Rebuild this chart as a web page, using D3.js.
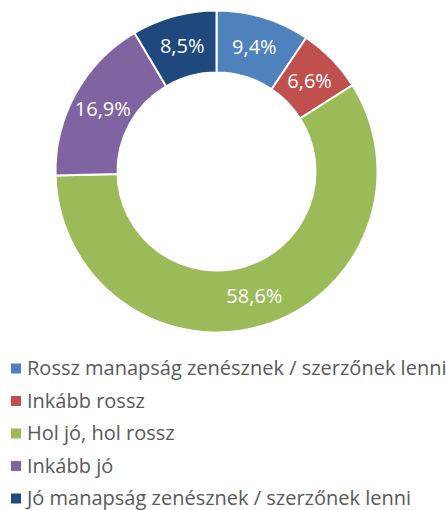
<!DOCTYPE html>
<html>
<head>
<meta charset="utf-8">
<script src="https://cdn.jsdelivr.net/npm/d3@7"></script>
<style>
  body { margin: 0; background: #fff; }
  svg { display: block; font-family: "Open Sans", "Noto Sans", sans-serif; }
</style>
</head>
<body>
<div id="chart"></div>
<script>
// Data
var categories = [
    "Rossz manapság zenésznek / szerzőnek lenni",
    "Inkább rossz",
    "Hol jó, hol rossz",
    "Inkább jó",
    "Jó manapság zenésznek / szerzőnek lenni"
];
var values = [9.4, 6.6, 58.6, 16.9, 8.5];
var colors = ["#4F81BD", "#C0504D", "#9BBB59", "#8064A2", "#1F497D"];

var width = 446, height = 510;
var cx = 216.5, cy = 171.5;
var outerR = 161, innerR = 99;

var svg = d3.select("#chart")
    .append("svg")
    .attr("width", width)
    .attr("height", height);

var color = d3.scaleOrdinal()
    .domain(categories)
    .range(colors);

var pie = d3.pie()
    .sort(null)
    .value(d => d.value);

var arc = d3.arc()
    .innerRadius(innerR)
    .outerRadius(outerR);

var data = categories.map((c, i) => ({ name: c, value: values[i] }));

var g = svg.append("g")
    .attr("transform", "translate(" + cx + "," + cy + ")");

// Slices
g.selectAll("path")
    .data(pie(data))
    .enter()
    .append("path")
    .attr("d", arc)
    .style("fill", d => color(d.data.name))
    .style("stroke", "#fff")
    .style("stroke-width", 2);

// Percent labels
g.selectAll("text")
    .data(pie(data))
    .enter()
    .append("text")
    .attr("transform", d => "translate(" + arc.centroid(d) + ")")
    .attr("text-anchor", "middle")
    .attr("dy", "0.35em")
    .style("font-size", "20px")
    .style("fill", "#fff")
    .text(d => d3.format(".1f")(d.data.value).replace(".", ",") + "%");

// Legend
var legend = svg.append("g");
var rows = legend.selectAll("g")
    .data(categories)
    .enter()
    .append("g")
    .attr("transform", (d, i) => "translate(0," + (368.5 + i * 32.5) + ")");

rows.append("rect")
    .attr("x", 11)
    .attr("y", -5)
    .attr("width", 10)
    .attr("height", 10)
    .style("fill", d => color(d));

rows.append("text")
    .attr("x", 27)
    .attr("y", 6.5)
    .style("font-size", "20px")
    .style("fill", "#595959")
    .text(d => d);
</script>
</body>
</html>
